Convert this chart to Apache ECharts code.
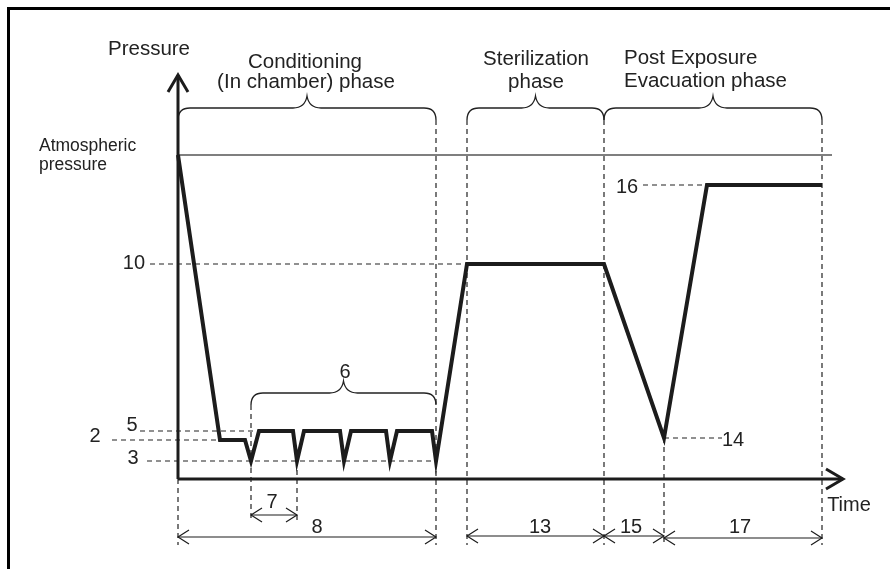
<!DOCTYPE html>
<html>
<head>
<meta charset="utf-8">
<script src="https://cdn.jsdelivr.net/npm/echarts@6/dist/echarts.min.js"></script>
<style>
  html, body { margin: 0; padding: 0; background: #fff; overflow: hidden; }
  #frame { position: absolute; left: 7px; top: 7px; width: 900px; height: 600px;
    border-top: 3px solid #000; border-left: 3px solid #000; }
  #chart { position: absolute; left: 0; top: 0; width: 890px; height: 569px; }
</style>
</head>
<body>
<div id="frame"></div>
<div id="chart"></div>
<script>
// pressure curve (time units, pressure units)
const timeVals = [0, 8.4, 13.4, 14.6, 16.2, 23, 23.8, 25.2, 32.4, 33.2, 34.6, 41.6, 42.4, 43.8, 50.8, 51.6, 57.8, 85.2, 97.2, 105.8, 128.8]
const pressureVals = [81, 9.75, 9.75, 4.5, 12, 12, 4.5, 12, 12, 4.5, 12, 12, 4.5, 12, 12, 4.5, 53.75, 53.75, 10.25, 73.5, 73.5]

const atmPressure = 81
const atmEnd = 130.8

// dashed level guides
const levelVals = [53.75, 12, 9.75, 4.5, 73.5, 10.25]
const levelFrom = [-5.6, -7.6, -13.2, -6.2, 93, 97.2]
const levelTo = [57.8, 16.2, 8.4, 51.6, 105.8, 108.8]

// dashed time guides
const guideX = [0, 51.6, 57.8, 85.2, 128.8, 14.6, 23.8, 97.2]
const guideTop = [0, 89.75, 89.75, 89.75, 89.75, 18.5, 4.5, 10.25]
const guideBottom = [-16.5, -16.5, -16.5, -16.5, -16.5, -10.75, -10.75, -16.5]

// dimension arrows
const dimFrom = [14.6, 0, 57.8, 85.2, 97.2]
const dimTo = [23.8, 51.6, 85.2, 97.2, 128.8]
const dimY = [-9, -14.5, -14.25, -14.25, -14.75]

// curly braces
const braceFrom = [0, 57.8, 85.2, 14.6]
const braceTo = [51.6, 85.2, 128.8, 51.6]
const braceY = [89.75, 89.75, 89.75, 18.5]

// axes (arrows)
const axisX = [[0, 0, 0, 101], [0, 0, 133, 0]]

// text labels
const labelText = ['Pressure', 'Conditioning', '(In chamber) phase', 'Sterilization', 'phase',
  'Post Exposure', 'Evacuation phase', 'Atmospheric', 'pressure', 'Time',
  '10', '5', '2', '3', '6', '7', '8', '13', '15', '17', '16', '14']
const labelX = [-5.8, 25.4, 25.6, 71.6, 71.6, 89.2, 89.2, -27.8, -27.8, 134.2,
  -6.6, -9.2, -16.6, -9, 33.4, 18.8, 27.8, 72.4, 90.6, 112.4, 89.8, 111]
const labelY = [107.5, 104.25, 99.25, 105, 99.25, 105.25, 99.5, 83.25, 78.5, -6.5,
  54, 13.5, 10.75, 5.25, 26.75, -5.75, -12, -12, -12, -12, 73, 9.75]
const labelAlign = ['center', 'center', 'center', 'center', 'center', 'left', 'left', 'left', 'left', 'center',
  'right', 'center', 'center', 'center', 'center', 'center', 'center', 'center', 'center', 'center', 'center', 'center']
const labelSize = [20.5, 20.5, 20.5, 20.5, 20.5, 20.5, 20.5, 17.5, 17.5, 20,
  20, 20, 20, 20, 20, 20, 20, 20, 20, 20, 20, 20]

const ink = '#1c1c1c'
const dash = { stroke: '#222', lineWidth: 1.2, lineDash: [5, 4] }

function head(tip, other, len, half) {
  const dx = other[0] - tip[0], dy = other[1] - tip[1]
  const l = Math.sqrt(dx * dx + dy * dy) || 1
  const ux = dx / l, uy = dy / l
  const nx = -uy, ny = ux
  return [
    [tip[0] + ux * len + nx * half, tip[1] + uy * len + ny * half],
    tip,
    [tip[0] + ux * len - nx * half, tip[1] + uy * len - ny * half]
  ]
}

function arrowItem(a, b, width, len, half, both) {
  const children = [{ type: 'line', shape: { x1: a[0], y1: a[1], x2: b[0], y2: b[1] }, style: { stroke: ink, lineWidth: width } }]
  children.push({ type: 'polyline', shape: { points: head(b, a, len, half) }, style: { stroke: ink, lineWidth: width, fill: null } })
  if (both) children.push({ type: 'polyline', shape: { points: head(a, b, len, half) }, style: { stroke: ink, lineWidth: width, fill: null } })
  return { type: 'group', children }
}

function bracePath(x1, x2, yb) {
  const ym = yb - 12, yp = ym - 12
  const xc = (x1 + x2) / 2
  const r = 12
  return [
    'M', x1, yb,
    'Q', x1, ym, x1 + r, ym,
    'L', xc - 14, ym,
    'Q', xc - 2, ym, xc, yp,
    'Q', xc + 2, ym, xc + 14, ym,
    'L', x2 - r, ym,
    'Q', x2, ym, x2, yb
  ].join(' ')
}

const chart = echarts.init(document.getElementById('chart'), null, { renderer: 'canvas' })

const option = {
  animation: false,
  backgroundColor: 'transparent',
  grid: { left: 8, top: 39, width: 850, height: 520 },
  xAxis: { type: 'value', min: -34, max: 136, show: false },
  yAxis: { type: 'value', min: -20, max: 110, show: false },
  series: [
    {
      name: 'levels',
      type: 'custom',
      data: levelVals.map((v, i) => [levelFrom[i], v]),
      renderItem(params, api) {
        const i = params.dataIndex
        const a = api.coord([levelFrom[i], levelVals[i]])
        const b = api.coord([levelTo[i], levelVals[i]])
        return { type: 'line', shape: { x1: a[0], y1: a[1], x2: b[0], y2: b[1] }, style: dash }
      }
    },
    {
      name: 'guides',
      type: 'custom',
      data: guideX.map((x, i) => [x, guideTop[i]]),
      renderItem(params, api) {
        const i = params.dataIndex
        const a = api.coord([guideX[i], guideTop[i]])
        const b = api.coord([guideX[i], guideBottom[i]])
        return { type: 'line', shape: { x1: a[0], y1: a[1], x2: b[0], y2: b[1] }, style: dash }
      }
    },
    {
      name: 'atmospheric',
      type: 'line',
      data: [[0, atmPressure], [atmEnd, atmPressure]],
      symbol: 'none',
      lineStyle: { color: '#555', width: 1.5 }
    },
    {
      name: 'pressure',
      type: 'line',
      data: timeVals.map((t, i) => [t, pressureVals[i]]),
      symbol: 'none',
      z: 5,
      lineStyle: { color: ink, width: 4, join: 'miter' }
    },
    {
      name: 'axes',
      type: 'custom',
      z: 6,
      data: axisX.map(r => [r[0], r[1]]),
      renderItem(params, api) {
        const r = axisX[params.dataIndex]
        return arrowItem(api.coord([r[0], r[1]]), api.coord([r[2], r[3]]), 3, 17, 10, false)
      }
    },
    {
      name: 'dims',
      type: 'custom',
      data: dimFrom.map((x, i) => [x, dimY[i]]),
      renderItem(params, api) {
        const i = params.dataIndex
        return arrowItem(api.coord([dimFrom[i], dimY[i]]), api.coord([dimTo[i], dimY[i]]), 1.2, 11, 7, true)
      }
    },
    {
      name: 'braces',
      type: 'custom',
      data: braceFrom.map((x, i) => [x, braceY[i]]),
      renderItem(params, api) {
        const i = params.dataIndex
        const a = api.coord([braceFrom[i], braceY[i]])
        const b = api.coord([braceTo[i], braceY[i]])
        return { type: 'path', shape: { pathData: bracePath(a[0], b[0], a[1]) }, style: { stroke: '#222', lineWidth: 1.3, fill: null } }
      }
    },
    {
      name: 'labels',
      type: 'custom',
      z: 7,
      data: labelX.map((x, i) => [x, labelY[i]]),
      renderItem(params, api) {
        const i = params.dataIndex
        const p = api.coord([labelX[i], labelY[i]])
        return {
          type: 'text',
          x: p[0], y: p[1],
          style: {
            text: labelText[i],
            fill: '#222',
            font: labelSize[i] + 'px "Liberation Sans", Arial, sans-serif',
            align: labelAlign[i],
            verticalAlign: 'middle'
          }
        }
      }
    }
  ]
}

chart.setOption(option)
</script>
</body>
</html>
